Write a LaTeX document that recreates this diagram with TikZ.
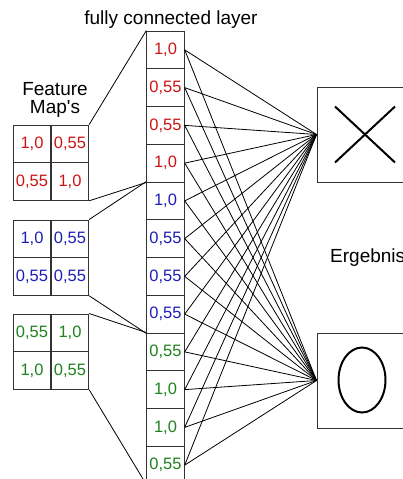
\documentclass[tikz,border=0pt]{standalone}
\usepackage{fontspec}
\setmainfont{Liberation Sans}
\usepackage{xcolor}
\usepackage{tikz}
\usetikzlibrary{positioning,calc}
\definecolor{fmred}{RGB}{205,20,20}
\definecolor{fmblue}{RGB}{30,30,185}
\definecolor{fmgreen}{RGB}{30,130,30}

\begin{document}
\begin{tikzpicture}[x=1pt,y=-1pt,
		cell/.style={draw=black!80,line width=0.9pt,minimum width=37.5pt,minimum height=37.7pt,inner sep=0pt,font=\fontsize{16.5}{16.5}\selectfont},
		resbox/.style={draw=black!80,line width=0.9pt,minimum width=96pt,minimum height=95pt,inner sep=0pt},
		label/.style={font=\fontsize{19}{19}\selectfont,inner sep=0pt}]
		\useasboundingbox (0,0) rectangle (403,479);
		\clip (0,0) rectangle (403,479);
		% fully connected layer
		\foreach \i/\v/\c in {1/{1,0}/fmred,2/{0,55}/fmred,3/{0,55}/fmred,4/{1,0}/fmred,
			5/{1,0}/fmblue,6/{0,55}/fmblue,7/{0,55}/fmblue,8/{0,55}/fmblue,
			9/{0,55}/fmgreen,10/{1,0}/fmgreen,11/{1,0}/fmgreen,12/{0,55}/fmgreen}
			\node[cell,text=\c] (c\i) at (165.5,{31+37.75*(\i-0.5)}) {\v};
		% feature maps
		\foreach \m/\y/\c/\a/\b/\e/\d in {1/125/fmred/{1,0}/{0,55}/{0,55}/{1,0},
			2/220/fmblue/{1,0}/{0,55}/{0,55}/{0,55},
			3/314/fmgreen/{0,55}/{1,0}/{1,0}/{0,55}}{
			\node[cell,text=\c] (m\m a) at (32,\y+18.8) {\a};
			\node[cell,text=\c] (m\m b) at (70,\y+18.8) {\b};
			\node[cell,text=\c] (m\m c) at (32,\y+56.5) {\e};
			\node[cell,text=\c] (m\m d) at (70,\y+56.5) {\d};
		}
		% results
		\node[resbox] (xbox) at (365,134.5) {};
		\node[resbox] (obox) at (365,380.5) {};
		\draw[line width=2pt] ($(xbox)+(-30,-28)$) -- ($(xbox)+(30,28)$);
		\draw[line width=2pt] ($(xbox)+(-30,28)$) -- ($(xbox)+(30,-28)$);
		\draw[line width=2pt] (362,380) ellipse (23.5 and 32.5);
		\foreach \i in {1,...,12}{
			\draw[line width=0.8pt] (c\i.east) -- (xbox.west);
			\draw[line width=0.8pt] (c\i.east) -- (obox.west);
		}
		\draw[line width=0.8pt] (m1b.north east) -- (c1.north west);
		\draw[line width=0.8pt] (m1d.south east) -- (c4.south west);
		\draw[line width=0.8pt] (m2b.north east) -- (c5.north west);
		\draw[line width=0.8pt] (m2d.south east) -- (c8.south west);
		\draw[line width=0.8pt] (m3b.north east) -- (c9.north west);
		\draw[line width=0.8pt] (m3d.south east) -- (c12.south west);
		\node[label] (title) at (171,20) {fully connected layer};
		\node[label,align=center] (fmap) at (55,100) {Feature\\[-1pt]Map\textquotesingle s};
		\node[label,anchor=west] (result) at (330,258) {Ergebnis};
	\end{tikzpicture}
\end{document}
